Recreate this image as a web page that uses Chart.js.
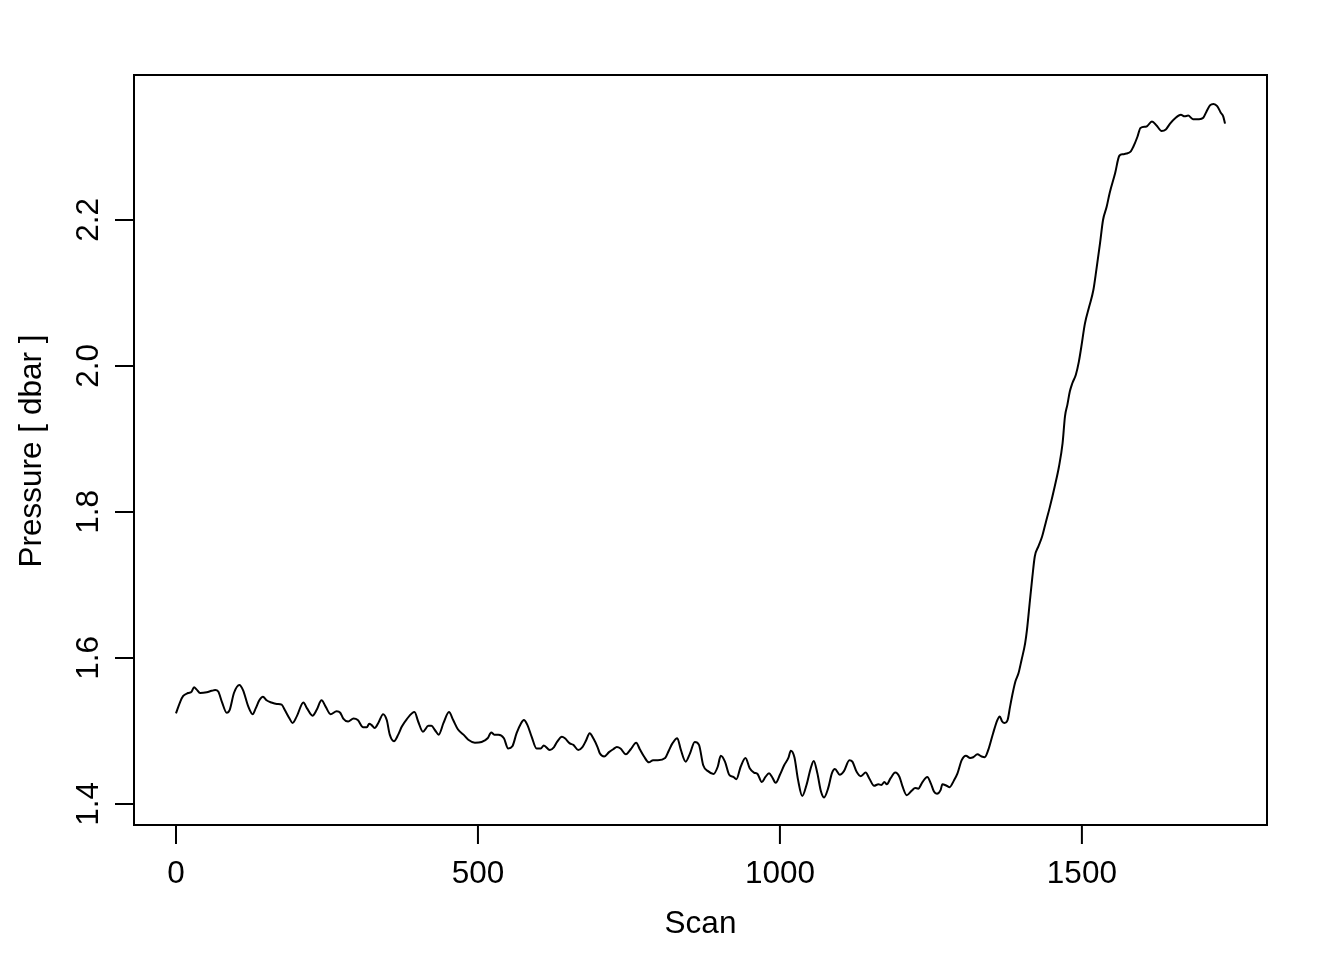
<!DOCTYPE html>
<html><head><meta charset="utf-8">
<script src="https://cdn.jsdelivr.net/npm/chart.js@4.4.0/dist/chart.umd.min.js"></script>
<style>html,body{margin:0;padding:0;background:#fff;}#wrap{width:1344px;height:960px;}</style>
</head><body><div id="wrap"><canvas id="c" width="1344" height="960"></canvas></div>
<script>
const scans = [0,7,12,20,26,30,34,40,51,59,65,70,76,84,89,96,105,111,120,127,132,138,144,150,158,167,175,180,188,193,200,211,217,226,233,241,248,256,266,272,
277,285,294,301,310,316,320,324,329,335,343,349,354,361,368,374,382,395,401,409,418,423,429,435,443,452,459,467,476,484,495,506,516,522,527,534,
543,550,557,564,571,576,582,589,597,604,609,619,626,631,639,644,652,658,666,673,679,685,691,698,702,709,717,724,730,736,745,753,762,768,775,783,790,798,810,
816,822,830,836,844,851,859,866,873,881,890,897,902,909,916,923,928,935,943,950,957,963,970,976,982,987,993,1000,1007,1014,1018,1024,1030,1037,1044,1051,1056,1062,1068,1073,1080,1086,1091,
1099,1106,1115,1120,1127,1134,1142,1148,1156,1163,1168,1173,1177,1183,1191,1198,1203,1210,1218,1224,1229,1236,1244,1250,1255,1260,1266,1269,1276,1281,1288,1294,1301,1308,1315,1320,1327,1334,1339,1345,1353,1360,1364,1368,1372,1377,1381,1386,1390,1395,1400,1406,1409,1414,1418,1422,1428,1434,1440,1447,1455,1462,1468,1472,1476,1480,1484,1490,1495,1499,1505,1512,1519,1524,1530,1535,1541,1546,1555,1562,1568,1574,1581,1585,1592,1597,1607,1616,1624,1632,1639,1646,1654,1664,1670,1676,1684,1694,1701,1706,1712,1718,1724,1730,1734,1737];
const pressure = [1.524,1.540,1.548,1.552,1.554,1.560,1.557,1.552,1.553,1.555,1.556,1.554,1.540,1.525,1.529,1.552,1.563,1.556,1.533,1.523,1.531,1.542,1.547,1.542,1.539,1.537,1.536,1.529,1.517,1.511,1.520,1.539,1.531,1.521,1.529,1.542,1.533,1.523,1.527,1.525,
1.517,1.513,1.517,1.515,1.505,1.505,1.510,1.508,1.504,1.511,1.523,1.515,1.495,1.486,1.495,1.506,1.516,1.526,1.513,1.499,1.507,1.507,1.501,1.495,1.511,1.526,1.515,1.502,1.495,1.488,1.484,1.485,1.490,1.498,1.495,1.495,
1.490,1.476,1.479,1.497,1.510,1.515,1.508,1.492,1.476,1.476,1.480,1.474,1.478,1.485,1.492,1.490,1.483,1.481,1.474,1.478,1.487,1.497,1.490,1.478,1.469,1.465,1.471,1.475,1.478,1.476,1.468,1.475,1.484,1.475,1.465,1.457,1.460,1.460,1.463,
1.473,1.483,1.490,1.474,1.458,1.469,1.485,1.481,1.453,1.445,1.441,1.451,1.466,1.458,1.440,1.437,1.434,1.451,1.463,1.449,1.443,1.441,1.430,1.437,1.442,1.437,1.429,1.440,1.453,1.463,1.473,1.464,1.433,1.411,1.426,1.449,1.459,1.442,1.417,1.409,1.422,1.442,1.448,
1.440,1.445,1.460,1.458,1.444,1.438,1.443,1.435,1.425,1.427,1.426,1.430,1.427,1.435,1.443,1.437,1.424,1.412,1.418,1.422,1.421,1.430,1.437,1.428,1.417,1.414,1.419,1.427,1.425,1.423,1.432,1.442,1.460,1.466,1.463,1.464,1.468,1.465,1.464,1.474,1.497,1.515,1.520,1.513,1.511,1.515,1.533,1.554,1.568,1.579,1.597,1.620,1.638,1.679,1.711,1.739,1.753,1.766,1.785,1.807,1.835,1.862,1.894,1.931,1.947,1.965,1.976,1.988,2.006,2.026,2.058,2.081,2.104,2.132,2.168,2.200,2.218,2.237,2.264,2.288,2.290,2.291,2.294,2.300,2.314,2.326,2.328,2.335,2.329,2.322,2.324,2.332,2.339,2.344,2.342,2.343,2.338,2.338,2.340,2.348,2.357,2.359,2.356,2.347,2.342,2.332];
const xTicks = [0, 500, 1000, 1500];
const xTickLabels = ["0", "500", "1000", "1500"];
const yTicks = [1.4, 1.6, 1.8, 2.0, 2.2];
const yTickLabels = ["1.4", "1.6", "1.8", "2.0", "2.2"];
const xTitle = "Scan";
const yTitle = "Pressure [ dbar ]";

const n = Math.min(scans.length, pressure.length);
const points = [];
for (let i = 0; i < n; i++) points.push({x: scans[i], y: pressure[i]});

const FONT = '31.5px "Liberation Sans", Arial, Helvetica, sans-serif';

const rAxes = {
  id: 'rAxes',
  afterDraw(chart) {
    const ctx = chart.ctx, a = chart.chartArea;
    const xs = chart.scales.x, ys = chart.scales.y;
    ctx.save();
    ctx.strokeStyle = '#000';
    ctx.lineWidth = 2;
    ctx.strokeRect(a.left, a.top, a.right - a.left, a.bottom - a.top);
    ctx.fillStyle = '#000';
    ctx.font = FONT;
    ctx.textAlign = 'center';
    ctx.textBaseline = 'middle';
    xTicks.forEach((v, i) => {
      const px = xs.getPixelForValue(v);
      ctx.beginPath(); ctx.moveTo(px, a.bottom); ctx.lineTo(px, a.bottom + 19); ctx.stroke();
      ctx.fillText(xTickLabels[i], px, a.bottom + 49);
    });
    yTicks.forEach((v, i) => {
      const py = ys.getPixelForValue(v);
      ctx.beginPath(); ctx.moveTo(a.left - 19, py); ctx.lineTo(a.left, py); ctx.stroke();
      ctx.save();
      ctx.translate(a.left - 45, py);
      ctx.rotate(-Math.PI / 2);
      ctx.fillText(yTickLabels[i], 0, 0);
      ctx.restore();
    });
    ctx.fillText(xTitle, (a.left + a.right) / 2, a.bottom + 99);
    ctx.save();
    ctx.translate(a.left - 102, (a.top + a.bottom) / 2 + 1);
    ctx.rotate(-Math.PI / 2);
    ctx.fillText(yTitle, 0, 0);
    ctx.restore();
    ctx.restore();
  }
};

new Chart(document.getElementById('c'), {
  type: 'line',
  data: {
    datasets: [{
      data: points,
      borderColor: '#000',
      borderWidth: 2,
      pointRadius: 0,
      fill: false,
      cubicInterpolationMode: 'monotone'
    }]
  },
  options: {
    responsive: false,
    animation: false,
    events: [],
    layout: {padding: {left: 0, top: 75, right: 77, bottom: 0}},
    plugins: {legend: {display: false}, tooltip: {enabled: false}},
    scales: {
      x: {
        type: 'linear', min: -69.5, max: 1806.5,
        grid: {display: false}, border: {display: false},
        ticks: {display: false},
        afterFit(s) { s.height = 135; }
      },
      y: {
        type: 'linear', min: 1.3712, max: 2.3986,
        grid: {display: false}, border: {display: false},
        ticks: {display: false},
        afterFit(s) { s.width = 134; }
      }
    }
  },
  plugins: [rAxes]
});
</script>
</body></html>
